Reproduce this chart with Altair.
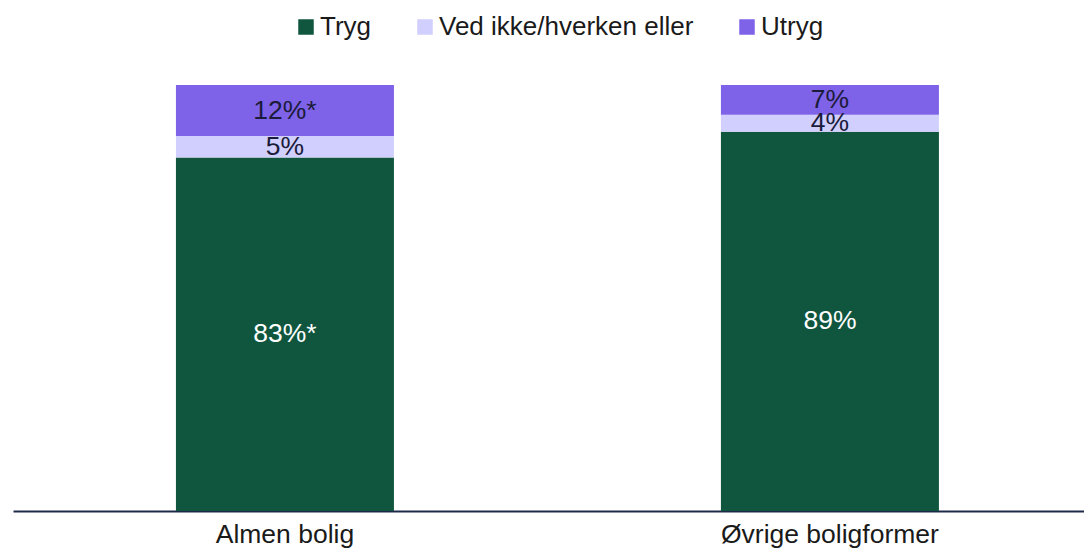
import altair as alt
import pandas as pd

groups = ["Almen bolig", "Øvrige boligformer"]
categories = ["Tryg", "Ved ikke/hverken eller", "Utryg"]
tryg = [83, 89]
ved_ikke = [5, 4]
utryg = [12, 7]
tryg_labels = ["83%*", "89%"]
ved_labels = ["5%", "4%"]
utryg_labels = ["12%*", "7%"]
colors = ["#10563F", "#D0CFFD", "#7E62E8"]
text_colors = ["#FFFFFF", "#1B1B3A", "#1B1B3A"]

rows = []
for i, g in enumerate(groups):
    for k, (vals, labs) in enumerate([(tryg, tryg_labels), (ved_ikke, ved_labels), (utryg, utryg_labels)]):
        rows.append({"group": g, "cat": categories[k], "rank": k,
                     "value": vals[i] / 100.0, "label": labs[i], "tcolor": text_colors[k]})
df = pd.DataFrame(rows)

FONT = "Liberation Sans"

x_enc = alt.X("group:N", sort=groups, title=None,
              scale=alt.Scale(paddingInner=0.6, paddingOuter=0.2826, align=0.529),
              axis=alt.Axis(labelAngle=0, ticks=False, domainColor="#1E2A4A", domainWidth=2,
                            labelFont=FONT, labelFontSize=26.5, labelColor="#1A1A1A",
                            labelBaseline="alphabetic", labelPadding=31, labelLimit=0,
                            grid=False))

base = alt.Chart(df)

bars = base.mark_bar().encode(
    x=x_enc,
    y=alt.Y("sum(value):Q", stack="zero", scale=alt.Scale(domain=[0, 1]), axis=None),
    color=alt.Color("cat:N", sort=categories,
                    scale=alt.Scale(domain=categories, range=colors),
                    legend=alt.Legend(title=None, orient="none", legendX=280, legendY=-71,
                                      direction="horizontal", symbolType="square",
                                      symbolSize=240, symbolStrokeWidth=0,
                                      labelFont=FONT, labelFontSize=26, labelColor="#1A1A1A",
                                      labelOffset=1, columnPadding=40, padding=0,
                                      labelLimit=0)),
    order=alt.Order("rank:Q", sort="ascending"),
)

texts = base.transform_stack(
    stack="value", groupby=["group"], as_=["y0", "y1"],
    sort=[alt.SortField("rank", order="ascending")]
).transform_calculate(
    mid="(datum.y0 + datum.y1) / 2"
).mark_text(font=FONT, fontSize=26.5, baseline="middle", align="center").encode(
    x=alt.X("group:N", sort=groups),
    y=alt.Y("mid:Q", scale=alt.Scale(domain=[0, 1])),
    text="label:N",
    color=alt.Color("tcolor:N", scale=None),
)

chart = alt.layer(bars, texts).properties(
    width=1071, height=426,
    autosize=alt.AutoSizeParams(type="none"),
    padding={"left": 5, "top": 77, "right": 0, "bottom": 38},
).configure_view(stroke=None)

chart.save("out.html", embed_options={"renderer": "svg", "actions": False})
